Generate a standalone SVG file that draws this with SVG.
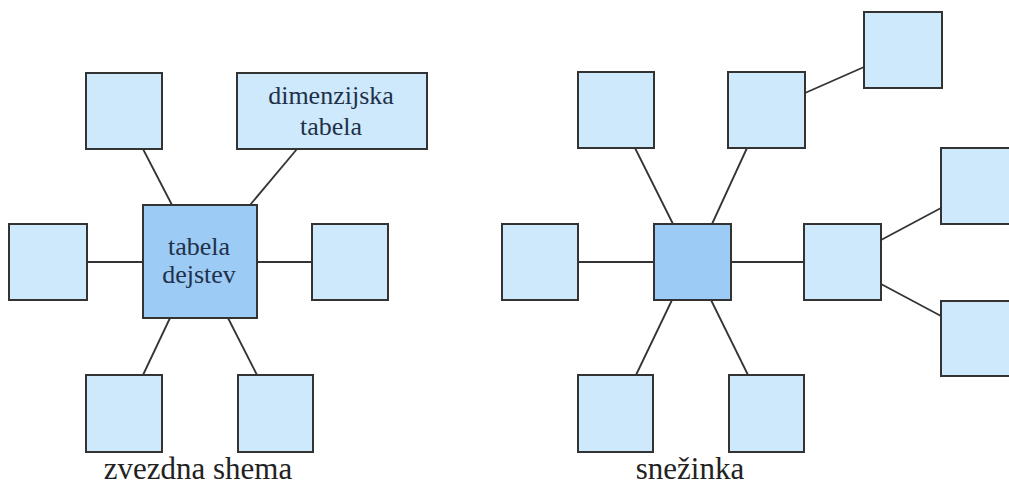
<svg xmlns="http://www.w3.org/2000/svg" width="1009" height="484" viewBox="0 0 1009 484">
<style>
.n{fill:#cde9fb;stroke:#333;stroke-width:2}
.c{fill:#9ccbf5;stroke:#333;stroke-width:2}
.e line{stroke:#333;stroke-width:1.8}
text.lbl{font-family:"Liberation Serif","Times New Roman",serif;font-size:26px;fill:#1f3049;text-anchor:middle}
text.cap{font-family:"Liberation Serif","Times New Roman",serif;font-size:31px;fill:#222;text-anchor:middle}
</style>
<rect width="1009" height="484" fill="#fff"/>
<g class="e" id="connectors">
<line x1="143" y1="149" x2="172" y2="205"/>
<line x1="297" y1="149" x2="250" y2="205"/>
<line x1="87" y1="262" x2="143" y2="262"/>
<line x1="257" y1="262" x2="312" y2="262"/>
<line x1="170" y1="318" x2="143" y2="375"/>
<line x1="228" y1="318" x2="257" y2="375"/>
<line x1="635" y1="148" x2="673" y2="224"/>
<line x1="747" y1="148" x2="712" y2="224"/>
<line x1="805" y1="93" x2="864" y2="67"/>
<line x1="578" y1="262" x2="654" y2="262"/>
<line x1="731" y1="262" x2="804" y2="262"/>
<line x1="881" y1="240" x2="941" y2="208"/>
<line x1="881" y1="284" x2="941" y2="316"/>
<line x1="672" y1="300" x2="636" y2="375"/>
<line x1="711" y1="300" x2="748" y2="375"/>
</g>
<g id="star-top-left"><rect class="n" x="86" y="73" width="76" height="76"/></g>
<g id="star-dim"><rect class="n" x="237" y="73" width="190" height="76"/>
<text class="lbl" font-family="Liberation Serif, serif" x="331" y="104">dimenzijska</text><text class="lbl" font-family="Liberation Serif, serif" x="331" y="135">tabela</text></g>
<g id="star-fact"><rect class="c" x="143" y="205" width="114" height="113"/>
<text class="lbl" font-family="Liberation Serif, serif" x="199" y="255">tabela</text><text class="lbl" font-family="Liberation Serif, serif" x="199" y="283">dejstev</text></g>
<g id="star-left"><rect class="n" x="9" y="224" width="78" height="76"/></g>
<g id="star-right"><rect class="n" x="312" y="224" width="76" height="76"/></g>
<g id="star-bottom-left"><rect class="n" x="86" y="375" width="76" height="77"/></g>
<g id="star-bottom-right"><rect class="n" x="238" y="375" width="75" height="77"/></g>
<g id="snow-top-left"><rect class="n" x="578" y="72" width="76" height="76"/></g>
<g id="snow-top-right"><rect class="n" x="728" y="72" width="77" height="76"/></g>
<g id="snow-far-top"><rect class="n" x="864" y="12" width="78" height="76"/></g>
<g id="snow-left"><rect class="n" x="502" y="224" width="76" height="76"/></g>
<g id="snow-center"><rect class="c" x="654" y="224" width="77" height="76"/></g>
<g id="snow-right"><rect class="n" x="804" y="224" width="77" height="76"/></g>
<g id="snow-far-upper"><rect class="n" x="941" y="148" width="80" height="76"/></g>
<g id="snow-far-lower"><rect class="n" x="941" y="301" width="80" height="75"/></g>
<g id="snow-bottom-left"><rect class="n" x="578" y="375" width="75" height="77"/></g>
<g id="snow-bottom-right"><rect class="n" x="729" y="375" width="75" height="77"/></g>
<text class="cap" x="198" y="479">zvezdna shema</text>
<text class="cap" x="690" y="479">snežinka</text>
</svg>
